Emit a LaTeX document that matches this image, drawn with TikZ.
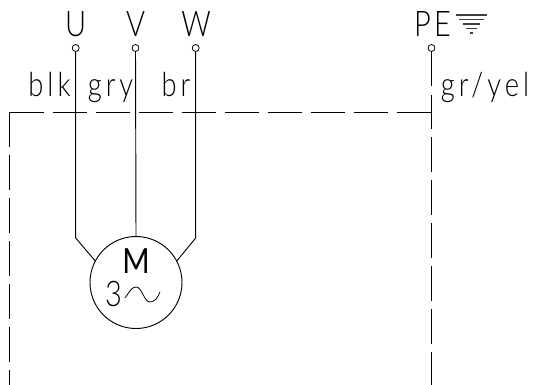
\documentclass[tikz,border=0pt]{standalone}
\usepackage{fontspec}
\setmainfont{Lato Light}[FakeStretch=0.82,LetterSpace=12]
\newfontfamily\motorfont{Lato}[FakeStretch=0.85]
\tikzset{
 wire/.style={line width=0.7pt,black},
 dashwire/.style={wire,dash pattern=on 25.9pt off 6.35pt},
 earthbar/.style={line width=0.8pt,black!75},
 terminal/.style={circle,draw,line width=0.6pt,minimum size=5.2pt,inner sep=0pt},
 motor/.style={circle,draw,line width=0.7pt,minimum size=69pt,inner sep=0pt},
 label/.style={inner sep=0pt,font=\fontsize{25}{25}\selectfont,anchor=base},
 biglabel/.style={inner sep=0pt,font=\fontsize{26.5}{26.5}\selectfont,anchor=base},
 motorlabel/.style={inner sep=0pt,font=\fontsize{26}{26}\motorfont,anchor=base},
}
\begin{document}
\begin{tikzpicture}[x=0.75pt,y=-0.75pt]
\useasboundingbox (0,0) rectangle (535,385);
% terminals
\node[terminal] (tu) at (75.7,48) {};
\node[terminal] (tv) at (135.5,48) {};
\node[terminal] (tw) at (195.7,48) {};
\node[terminal] (tpe) at (431.5,48) {};
% motor
\node[motor] (m) at (136,282.5) {};
% bends
\coordinate (bu) at (75.7,238);
\coordinate (bw) at (195.7,238);
\coordinate (cl) at (9.5,112);
\coordinate (cr) at (431.5,112);
\coordinate (bl) at (9.5,385);
\coordinate (br) at (431.5,385);
\coordinate (tpg) at (431.5,86);
\coordinate (tpd) at (431.5,95);
% wires
\draw[wire] (tu) -- (bu) -- (m.152);
\draw[wire] (tv) -- (m.north);
\draw[wire] (tw) -- (bw) -- (m.28);
\draw[wire] (tpe) -- (tpg);
\draw[wire] (tpd) -- (cr);
\draw[dashwire] (cl) -- (cr);
\draw[dashwire] (cl) -- (bl);
\draw[dashwire,dash phase=13.15pt] (cr) -- (br);
% labels
\node[biglabel] (lu) at (75.7,37) {U};
\node[biglabel] (lv) at (135.5,37) {V};
\node[biglabel] (lw) at (196,37) {W};
\node[biglabel] (lpe) at (432.5,37) {P\kern2.5pt E};
\node[label] (lblk) at (49.5,96) {blk};
\node[label] (lgry) at (110.5,96) {gry};
\node[label] (lbr) at (176,96) {br};
\node[label] (lgy) at (485,96) {gr/yel};
\node[motorlabel] (lm) at (136,273) {M};
\node[biglabel] (l3) at (113.5,306.5) {3};
% sine
\draw[wire,line width=0.6pt] (125,298) .. controls (129,293) and (131,287) .. (136,287) .. controls (142,287) and (144,302) .. (150,302) .. controls (155,302) and (158,297) .. (160,292);
% earth
\draw[earthbar] (456,15) -- (487,15);
\draw[earthbar] (459,19.7) -- (484,19.7);
\draw[earthbar] (463,24) -- (480,24);
\draw[earthbar] (466,28.7) -- (477,28.7);
\draw[earthbar] (470,33) -- (473,33);
\end{tikzpicture}
\end{document}
